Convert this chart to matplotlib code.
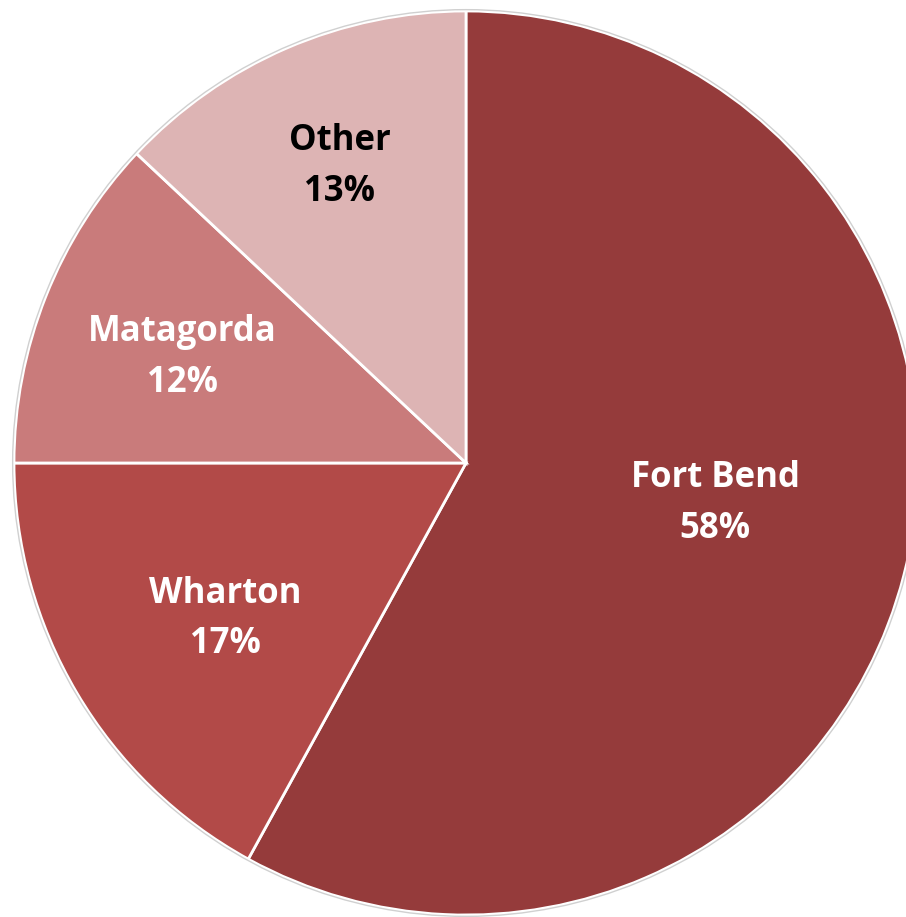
import matplotlib.pyplot as plt
from matplotlib.patches import Circle

# =============================================================================
# data
# =============================================================================
counties = ["Fort Bend", "Wharton", "Matagorda", "Other"]
shares = [58, 17, 12, 13]
colors = ["#953B3B", "#B24A48", "#C97B7B", "#DDB4B4"]
text_colors = ["white", "white", "white", "black"]
# label centres (data coords, pie radius = 1)
label_x = [0.551, -0.533, -0.628, -0.279]
label_y = [-0.090, -0.345, 0.234, 0.656]

# =============================================================================
# plot
# =============================================================================
W, H = 906, 917
cx, cy, R = 466, 463, 452

fig = plt.figure(figsize=(W / 100, H / 100), dpi=100)
ax = fig.add_axes([0, 0, 1, 1])

ax.pie(shares, colors=colors, startangle=90, counterclock=False, radius=1,
       wedgeprops=dict(edgecolor="white", linewidth=2))
ax.add_patch(Circle((0, 0), 1.003, fill=False, edgecolor="#d0d0d0", linewidth=1))

for name, pct, x, y, c in zip(counties, shares, label_x, label_y, text_colors):
    ax.text(x, y, f"{name}\n{pct}%", ha="center", va="center", color=c,
            fontsize=25, fontweight="bold", family="Open Sans", linespacing=1.55)

# pie() resets the limits, so set them afterwards
ax.set_xlim(-cx / R, (W - cx) / R)
ax.set_ylim(-(H - cy) / R, cy / R)
ax.set_aspect("equal")
ax.axis("off")

fig.savefig("out.png", dpi=100)
